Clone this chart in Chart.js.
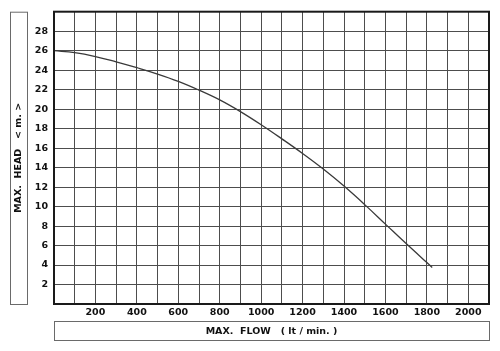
<!DOCTYPE html>
<html>
<head>
<meta charset="utf-8">
<script src="https://cdn.jsdelivr.net/npm/chart.js@4.4.0/dist/chart.umd.min.js"></script>
<style>
html,body{margin:0;padding:0;background:#fff;}
#wrap{width:500px;height:351px;position:relative;}
</style>
</head>
<body>
<div id="wrap"><canvas id="c" width="500" height="351"></canvas></div>
<script>
// Data
const flow = [0, 100, 200, 300, 400, 500, 600, 700, 800, 900, 1000, 1100, 1200, 1300, 1400, 1500, 1600, 1700, 1800, 1826];
const head = [26.0, 25.8, 25.4, 24.85, 24.25, 23.6, 22.85, 21.95, 20.95, 19.75, 18.4, 16.95, 15.45, 13.85, 12.1, 10.2, 8.2, 6.2, 4.25, 3.75];
const xTickLabels = [200, 400, 600, 800, 1000, 1200, 1400, 1600, 1800, 2000];
const yTickLabels = [2, 4, 6, 8, 10, 12, 14, 16, 18, 20, 22, 24, 26, 28];
const xTitle = 'MAX.  FLOW   ( lt / min. )';
const yTitle = 'MAX.  HEAD   < m. >';

const FONT = 'DejaVu Sans';
const points = flow.map((f, i) => ({x: f, y: head[i]}));

const framePlugin = {
  id: 'frame',
  afterDraw(chart) {
    const {ctx, chartArea: a} = chart;
    ctx.save();
    ctx.strokeStyle = '#1a1a1a';
    ctx.lineWidth = 2;
    ctx.strokeRect(a.left, a.top, a.right - a.left, a.bottom - a.top);
    ctx.strokeStyle = '#6a6a6a';
    ctx.lineWidth = 1;
    ctx.strokeRect(10.5, a.top + 0.5, 17, a.bottom - a.top);
    ctx.strokeRect(a.left + 0.5, a.bottom + 17.5, a.right - a.left, 19);
    ctx.restore();
  }
};

new Chart(document.getElementById('c'), {
  type: 'line',
  data: {
    datasets: [{
      data: points,
      borderColor: '#3a3a3a',
      borderWidth: 1.3,
      pointRadius: 0,
      fill: false,
      tension: 0.4
    }]
  },
  options: {
    responsive: false,
    animation: false,
    devicePixelRatio: 1,
    layout: {padding: {top: 9, right: 11, left: 0, bottom: 0}},
    plugins: {legend: {display: false}, tooltip: {enabled: false}},
    scales: {
      x: {
        type: 'linear',
        min: 0, max: 2100,
        afterFit(s) { s.height = 47; },
        afterBuildTicks(s) { s.ticks = []; for (let v = 0; v <= 2100; v += 100) s.ticks.push({value: v}); },
        ticks: {
          autoSkip: false, maxRotation: 0, padding: 3,
          color: '#111',
          font: {family: FONT, size: 9.5, weight: 'bold'},
          callback: v => xTickLabels.includes(v) ? String(v) : ''
        },
        grid: {color: '#4d4d4d', lineWidth: 1, drawTicks: false},
        border: {display: false},
        title: {
          display: true, text: xTitle, color: '#111',
          font: {family: FONT, size: 9.5, weight: 'bold'},
          padding: {top: 0, bottom: 14}
        }
      },
      y: {
        min: 0, max: 30,
        afterFit(s) { s.width = 54; },
        afterBuildTicks(s) { s.ticks = []; for (let v = 0; v <= 30; v += 2) s.ticks.push({value: v}); },
        ticks: {
          autoSkip: false, padding: 6,
          color: '#111',
          font: {family: FONT, size: 9.5, weight: 'bold'},
          callback: v => yTickLabels.includes(v) ? String(v) : ''
        },
        grid: {color: '#4d4d4d', lineWidth: 1, drawTicks: false},
        border: {display: false},
        title: {
          display: true, text: yTitle, color: '#111',
          font: {family: FONT, size: 9.5, weight: 'bold'},
          padding: {top: 13, bottom: 0}
        }
      }
    }
  },
  plugins: [framePlugin]
});
</script>
</body>
</html>
